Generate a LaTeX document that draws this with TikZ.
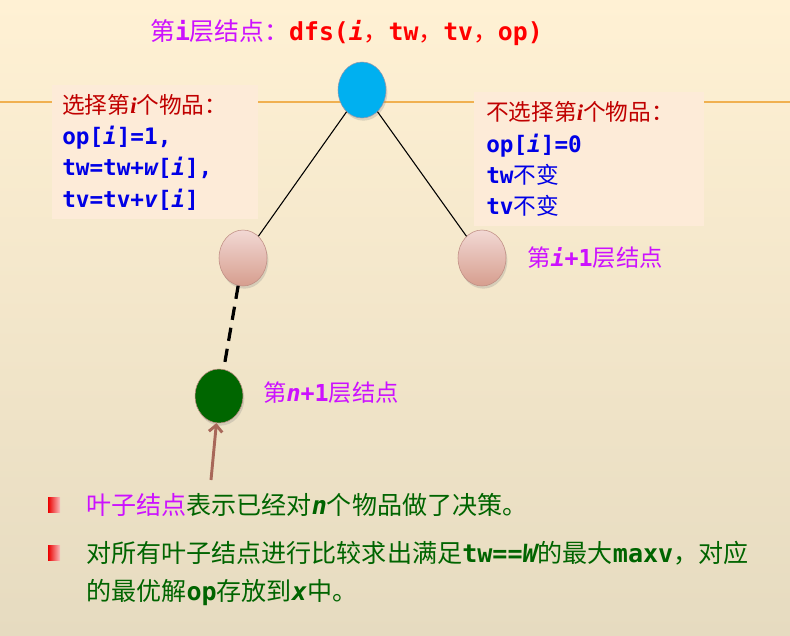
\documentclass[tikz,border=0pt]{standalone}
\usepackage{fontspec}
\setmainfont{Noto Sans CJK SC}
\newfontfamily\codefont{DejaVu Sans Mono}
\newfontfamily\itfont{Liberation Serif}
\usetikzlibrary{positioning,shadows,arrows.meta}

\definecolor{bgtop}{RGB}{255,241,212}
\definecolor{bgbottom}{RGB}{230,219,192}
\definecolor{rulecol}{RGB}{240,176,80}
\definecolor{boxfill}{RGB}{253,235,216}
\definecolor{labelpurple}{RGB}{204,17,255}
\definecolor{titlered}{RGB}{255,0,0}
\definecolor{headred}{RGB}{192,0,0}
\definecolor{codeblue}{RGB}{0,0,230}
\definecolor{notegreen}{RGB}{0,100,0}
\definecolor{rootblue}{RGB}{0,176,240}
\definecolor{leafgreen}{RGB}{0,102,0}
\definecolor{pinktop}{RGB}{242,216,212}
\definecolor{pinkbottom}{RGB}{214,158,142}
\definecolor{pinkedge}{RGB}{190,140,130}
\definecolor{pointercol}{RGB}{168,104,90}
\definecolor{bulletred}{RGB}{235,0,0}

\newcommand\cd[1]{{\codefont\bfseries #1}}
\newcommand\cdi[1]{{\codefont\bfseries\itshape #1}}
\newcommand\hi[1]{{\itfont\bfseries\itshape #1}}

\tikzset{
  treenode/.style={ellipse, minimum width=36pt, minimum height=42pt, inner sep=0pt,
    drop shadow={opacity=0.25, shadow xshift=1pt, shadow yshift=-2pt}},
  infobox/.style={fill=boxfill, align=left, anchor=north west, inner ysep=4pt,
    font=\fontsize{17}{23.5}\selectfont},
  levellabel/.style={anchor=west, inner sep=0pt, text=labelpurple, font=\fontsize{17.5}{20}\selectfont},
  treeedge/.style={draw=black, line width=0.8pt},
  leafpath/.style={draw=black, line width=2.4pt, dash pattern=on 10pt off 6pt},
  bulletmark/.style={rectangle, minimum width=9pt, minimum height=11pt, inner sep=0pt,
    left color=bulletred, right color=bulletred!25},
  noteline/.style={anchor=west, inner sep=0pt, text=notegreen, font=\fontsize{18.8}{24}\selectfont}
}
\usetikzlibrary{shapes.geometric}

\begin{document}
\begin{tikzpicture}[x=0.75pt, y=-0.75pt]
  \useasboundingbox (0,0) rectangle (790,636);
  \shade[top color=bgtop, bottom color=bgbottom] (0,0) rectangle (790,636);
  \draw[rulecol, line width=1.6pt] (0,102) -- (790,102);

  % title
  \node (title) [anchor=west, inner sep=0pt, font=\fontsize{18.6}{22}\selectfont] at (150,33)
    {\textcolor{labelpurple}{第\cd{i}层结点：}\textcolor{titlered}{\cd{dfs(}\cdi{i}，\cd{tw}，\cd{tv}，\cd{op)}}};

  % text boxes
  \node (choosebox) [infobox, inner xsep=7.5pt, text width=139.5pt, minimum height=100pt] at (52,85)
    {\textcolor{headred}{选择第\hi{i}个物品：}\\
     \textcolor{codeblue}{\cd{op[}\cdi{i}\cd{]=1,}}\\
     \textcolor{codeblue}{\cd{tw=tw+}\cdi{w}\cd{[}\cdi{i}\cd{],}}\\
     \textcolor{codeblue}{\cd{tv=tv+}\cdi{v}\cd{[}\cdi{i}\cd{]}}};
  \node (skipbox) [infobox, inner xsep=9pt, text width=154.5pt, minimum height=100.5pt] at (474,92)
    {\textcolor{headred}{不选择第\hi{i}个物品：}\\
     \textcolor{codeblue}{\cd{op[}\cdi{i}\cd{]=0}}\\
     \textcolor{codeblue}{\cd{tw}不变}\\
     \textcolor{codeblue}{\cd{tv}不变}};

  % tree
  \node (root) [treenode, fill=rootblue, draw={rgb,255:red,150;green,150;blue,170}] at (362,90) {};
  \node (chosen) [treenode, top color=pinktop, bottom color=pinkbottom, draw=pinkedge] at (243,258) {};
  \node (skipped) [treenode, top color=pinktop, bottom color=pinkbottom, draw=pinkedge] at (482,258) {};
  \node (leaf) [treenode, minimum height=40.5pt, fill=leafgreen, draw=pinkedge] at (219,396) {};
  \draw[treeedge] (root) -- (chosen);
  \draw[treeedge] (root) -- (skipped);
  \draw[leafpath] (chosen) -- (leaf);
  \coordinate (pointer) at (211,480);
  \draw[pointercol, line width=2.2pt, -{Straight Barb[length=5pt, width=10pt]}] (pointer) -- (leaf);

  \node (nextlabel) [levellabel] at (527,258) {第\cdi{i}\cd{+1}层结点};
  \node (leaflabel) [levellabel] at (263,393) {第\cdi{n}\cd{+1}层结点};

  % notes
  \node (bullet1) [bulletmark] at (54,505) {};
  \node (bullet2) [bulletmark] at (54,553) {};
  \node (line1) [noteline] at (86,505)
    {\textcolor{labelpurple}{叶子结点}表示已经对\cdi{n}个物品做了决策。};
  \node (line2) [noteline] at (86,553)
    {对所有叶子结点进行比较求出满足\cd{tw==}\cdi{W}的最大\cd{maxv}，对应};
  \node (line3) [noteline] at (86,593)
    {的最优解\cd{op}存放到\cdi{x}中。};
\end{tikzpicture}
\end{document}
